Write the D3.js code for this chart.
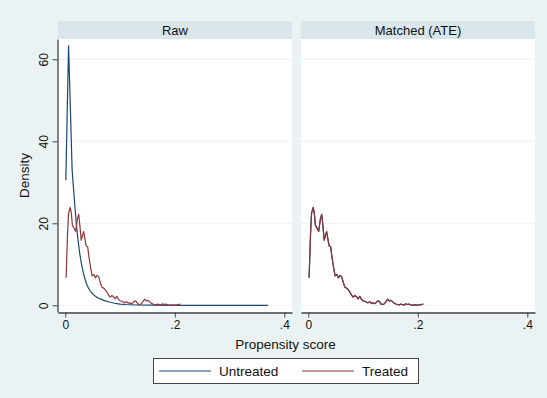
<!DOCTYPE html>
<html>
<head>
<meta charset="utf-8">
<script src="https://cdn.jsdelivr.net/npm/d3@7"></script>
<style>
  body { margin: 0; background: #eaf2f3; }
  svg { display: block; font-family: "Liberation Sans", Arial, sans-serif; }
</style>
</head>
<body>
<div id="chart"></div>
<script>
// kdensity of propensity score
const panels = ["Raw", "Matched (ATE)"];
const xTicks = [0, 0.2, 0.4];
const yTicks = [0, 20, 40, 60];

const untreatedRaw = [
    [0.001, 30.5], [0.006, 63.3], [0.0125, 33.0], [0.017, 25.0], [0.020, 20.0],
    [0.023, 16.2], [0.026, 13.0], [0.029, 10.5], [0.032, 8.5], [0.035, 6.9],
    [0.038, 5.5], [0.042, 4.3], [0.045, 3.6], [0.050, 2.8], [0.055, 2.2],
    [0.060, 1.8], [0.065, 1.5], [0.070, 1.2], [0.080, 0.8], [0.090, 0.5],
    [0.100, 0.3], [0.110, 0.2], [0.130, 0.08], [0.160, 0.03], [0.200, 0.01],
    [0.260, 0.0], [0.370, 0.0]
];

const treatedRaw = [
    [0.0015, 6.7], [0.004, 17.0], [0.006, 22.5], [0.009, 23.9], [0.011, 22.5],
    [0.013, 19.5], [0.016, 18.8], [0.019, 18.0], [0.022, 21.0], [0.0245, 22.2],
    [0.027, 19.0], [0.029, 15.9], [0.031, 16.8], [0.0335, 18.0], [0.036, 16.0],
    [0.038, 14.5], [0.041, 14.2], [0.043, 12.0], [0.046, 9.4], [0.049, 7.2],
    [0.052, 7.5], [0.055, 6.7], [0.058, 7.3], [0.061, 7.0], [0.064, 5.5],
    [0.067, 4.4], [0.070, 4.2], [0.073, 3.8], [0.076, 3.2], [0.079, 2.5],
    [0.082, 2.0], [0.085, 2.4], [0.088, 2.1], [0.091, 1.6], [0.094, 2.2],
    [0.097, 1.5], [0.100, 1.1], [0.103, 1.0], [0.106, 0.8], [0.109, 0.6],
    [0.112, 0.9], [0.115, 0.5], [0.118, 0.6], [0.121, 0.4], [0.124, 0.7],
    [0.127, 1.1], [0.130, 0.9], [0.133, 0.3], [0.136, 0.2], [0.139, 0.4],
    [0.142, 0.9], [0.145, 1.5], [0.148, 1.1], [0.151, 1.2], [0.154, 0.9],
    [0.157, 0.5], [0.160, 0.3], [0.163, 0.2], [0.166, 0.1], [0.169, 0.3],
    [0.172, 0.15], [0.175, 0.1], [0.178, 0.35], [0.181, 0.2], [0.184, 0.3],
    [0.187, 0.1], [0.190, 0.05], [0.194, 0.1], [0.198, 0.05], [0.202, 0.1],
    [0.206, 0.15], [0.210, 0.3]
];

// after matching both groups lie on top of each other
const untreatedMatched = treatedRaw;
const treatedMatched = treatedRaw;

const seriesData = [
    [untreatedRaw, treatedRaw],
    [untreatedMatched, treatedMatched]
];
const legendLabels = ["Untreated", "Treated"];
const colors = ["#1a476f", "#90353b"];

function drawChart() {
    const width = 547;
    const height = 398;
    const panelW = 234;
    const panelLefts = [58, 301];
    const plotTop = 39;
    const plotBottom = 312;

    const svg = d3.select("#chart")
        .append("svg")
        .attr("width", width)
        .attr("height", height)
        .style("background-color", "#eaf2f3");

    const y = d3.scaleLinear()
        .domain([-1.63, 64.95])
        .range([plotBottom, plotTop]);

    panels.forEach((name, p) => {
        const left = panelLefts[p];
        const x = d3.scaleLinear()
            .domain([-0.0133, 0.414])
            .range([left, left + panelW]);

        // header strip
        svg.append("rect")
            .attr("x", left)
            .attr("y", 21)
            .attr("width", panelW)
            .attr("height", plotTop - 21)
            .attr("fill", "#d9e6eb");

        svg.append("text")
            .attr("x", left + panelW / 2)
            .attr("y", 30)
            .attr("dy", "0.35em")
            .attr("text-anchor", "middle")
            .style("font-size", "13px")
            .style("fill", "#111")
            .text(name);

        // plot region
        svg.append("rect")
            .attr("x", left)
            .attr("y", plotTop)
            .attr("width", panelW)
            .attr("height", plotBottom - plotTop)
            .attr("fill", "white");

        svg.append("g")
            .selectAll("line")
            .data(yTicks)
            .join("line")
            .attr("x1", left)
            .attr("x2", left + panelW)
            .attr("y1", d => y(d))
            .attr("y2", d => y(d))
            .attr("stroke", "#eaf2f3")
            .attr("stroke-width", 1);

        const line = d3.line()
            .x(d => x(d[0]))
            .y(d => y(d[1]));

        seriesData[p].forEach((s, i) => {
            svg.append("path")
                .datum(s)
                .attr("fill", "none")
                .attr("stroke", colors[i])
                .attr("stroke-width", 1.2)
                .attr("stroke-linejoin", "round")
                .attr("d", line);
        });

        // x axis
        const xAxis = svg.append("g")
            .attr("transform", `translate(0,${plotBottom + 0.5})`)
            .call(d3.axisBottom(x)
                .tickValues(xTicks)
                .tickSize(5)
                .tickPadding(3)
                .tickSizeOuter(0)
                .tickFormat(d => d === 0 ? "0" : d3.format(".1f")(d).replace(/^0/, "")))
            .attr("color", "#444")
            .style("font-size", "12px")
            .style("font-family", "Liberation Sans, Arial, sans-serif");
        xAxis.select(".domain").attr("stroke-width", 1.3);
        xAxis.selectAll("text").attr("fill", "#111");

        if (p === 0) {
            const yAxis = svg.append("g")
                .attr("transform", `translate(${left - 0.5},0)`)
                .call(d3.axisLeft(y)
                    .tickValues(yTicks)
                    .tickSize(5)
                    .tickSizeOuter(0))
                .attr("color", "#444")
                .style("font-size", "12px")
                .style("font-family", "Liberation Sans, Arial, sans-serif");
            yAxis.select(".domain").attr("stroke-width", 1.3);
            yAxis.selectAll(".tick text")
                .attr("fill", "#111")
                .attr("x", null)
                .attr("dy", null)
                .attr("text-anchor", "middle")
                .attr("transform", "translate(-10,0) rotate(-90)");
        }
    });

    // axis titles
    svg.append("text")
        .attr("transform", `translate(29,${(plotTop + plotBottom) / 2}) rotate(-90)`)
        .attr("text-anchor", "middle")
        .style("font-size", "13.5px")
        .style("fill", "#111")
        .text("Density");

    svg.append("text")
        .attr("x", 285.5)
        .attr("y", 349)
        .attr("text-anchor", "middle")
        .style("font-size", "13.5px")
        .style("fill", "#111")
        .text("Propensity score");

    // legend
    const legend = svg.append("g");
    legend.append("rect")
        .attr("x", 153.5)
        .attr("y", 358.5)
        .attr("width", 265)
        .attr("height", 25)
        .attr("fill", "white")
        .attr("stroke", "#444")
        .attr("stroke-width", 1);

    const legendX = [159, 302];
    legendLabels.forEach((label, i) => {
        legend.append("line")
            .attr("x1", legendX[i])
            .attr("x2", legendX[i] + 52)
            .attr("y1", 371)
            .attr("y2", 371)
            .attr("stroke", colors[i])
            .attr("stroke-width", 1.2);

        legend.append("text")
            .attr("x", legendX[i] + 60)
            .attr("y", 371)
            .attr("dy", "0.35em")
            .style("font-size", "13.5px")
            .style("fill", "#111")
            .text(label);
    });
}

drawChart();
</script>
</body>
</html>
